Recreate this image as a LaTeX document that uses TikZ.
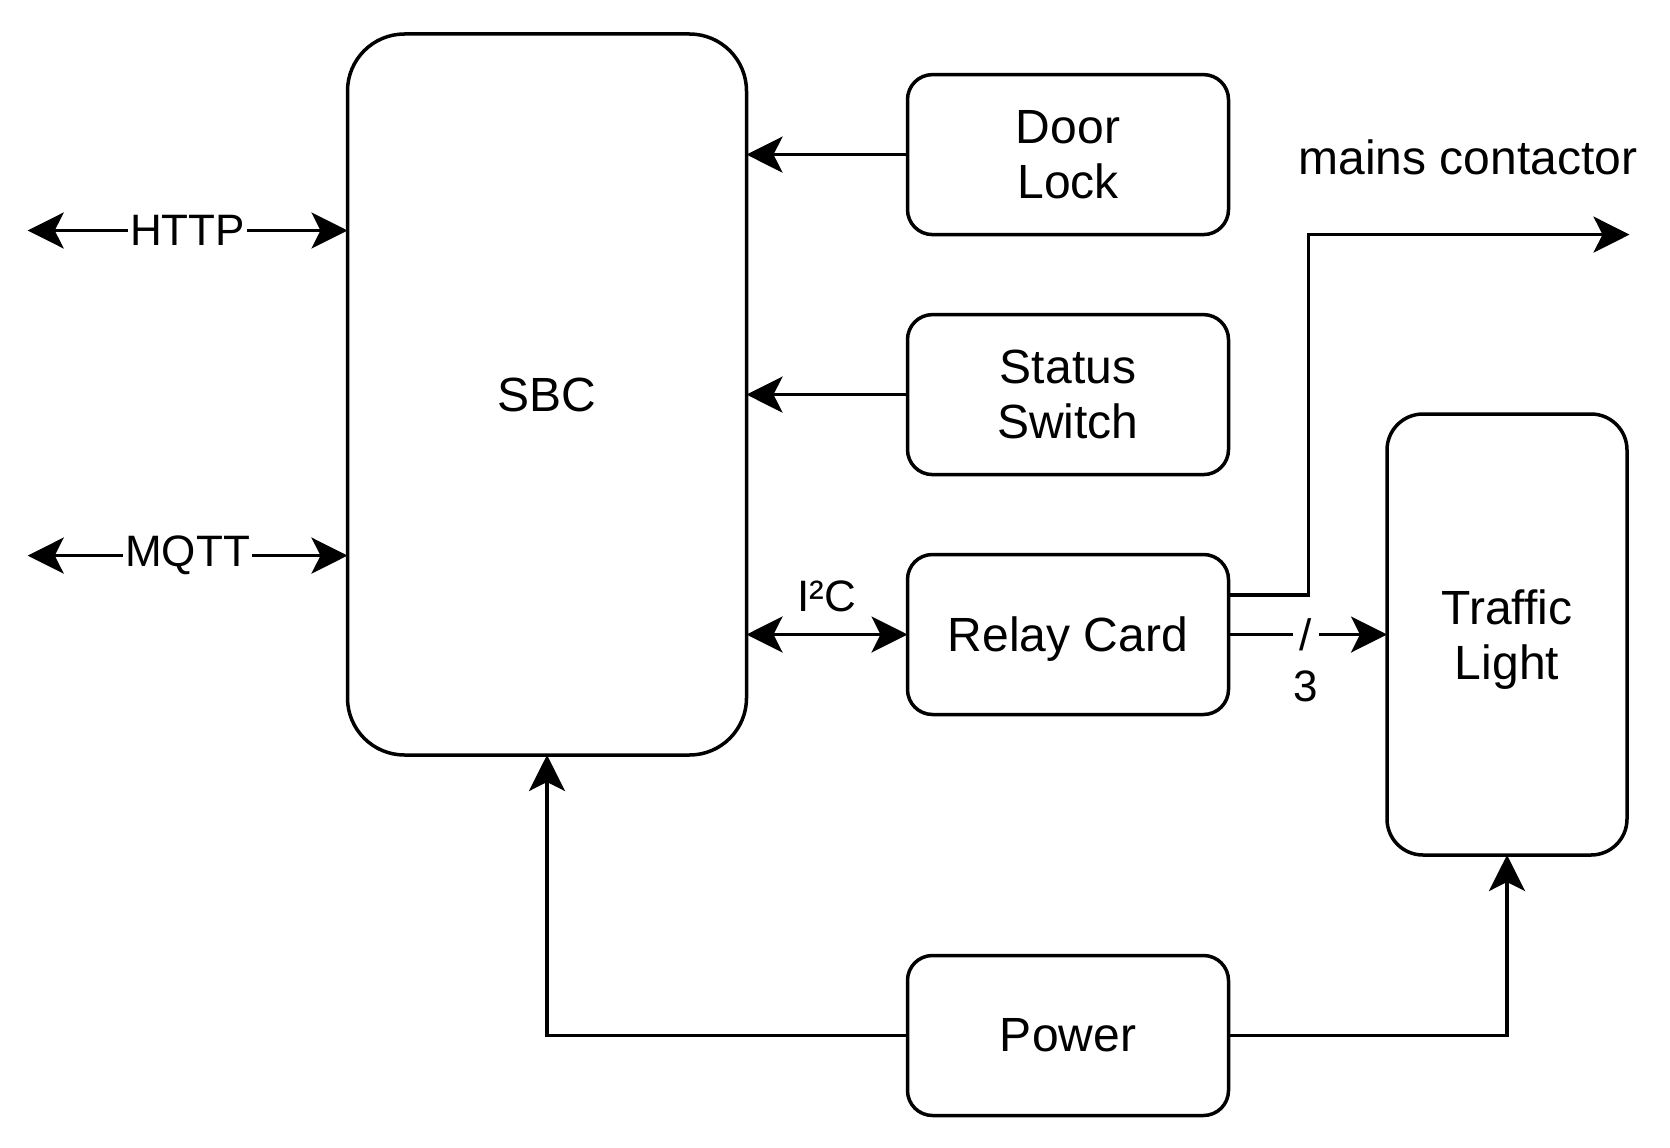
\documentclass[tikz,border=0pt]{standalone}
\usepackage{fontspec}
\setmainfont{Liberation Sans}
\usetikzlibrary{arrows.meta,calc}
\tikzset{
  blk/.style={draw, line width=3.5pt, rounded corners=25pt, inner sep=0pt, outer sep=0pt,
    align=center, font=\fontsize{48}{55}\selectfont},
  conn/.style={line width=3.5pt, -{Stealth[length=36pt,width=36pt,inset=9pt]}},
  biconn/.style={line width=3.5pt, {Stealth[length=36pt,width=36pt,inset=9pt]}-{Stealth[length=36pt,width=36pt,inset=9pt]}},
  lbl/.style={font=\fontsize{44}{50}\selectfont, inner sep=2pt},
  bigtxt/.style={font=\fontsize{48}{55}\selectfont, inner sep=0pt},
}
\begin{document}
\begin{tikzpicture}[x=1pt,y=-1pt]
\useasboundingbox[fill=white] (0,0) rectangle (1670,1148);
\node[blk, rounded corners=57pt, minimum width=399pt, minimum height=721pt] (sbc) at (547,394.5) {SBC};
\node[blk, minimum width=321pt, minimum height=160pt] (door) at (1068,154.6) {Door\\Lock};
\node[blk, minimum width=321pt, minimum height=160pt] (status) at (1068,394.6) {Status\\Switch};
\node[blk, text depth=0pt, minimum width=321pt, minimum height=160pt] (relay) at (1068,634.5) {Relay Card};
\node[blk, minimum width=321pt, minimum height=160pt] (power) at (1068,1035.5) {Power};
\node[blk, text depth=0pt, rounded corners=36pt, minimum width=240pt, minimum height=441pt] (traffic) at (1507,634.5) {Traffic\\Light};
\node[bigtxt] (mains) at (1468,157) {mains contactor};

\coordinate (httpL) at (27.7,230.5);
\coordinate (mqttL) at (27.7,555.6);
\coordinate (mainsEnd) at (1629.5,234.6);

\draw[biconn] (httpL) -- (httpL -| sbc.west) node[midway, lbl, fill=white] {HTTP};
\draw[biconn] (mqttL) -- (mqttL -| sbc.west) node[midway, lbl, fill=white] {MQTT};
\draw[conn] (door.west) -- (door.west -| sbc.east);
\draw[conn] (status.west) -- (status.west -| sbc.east);
\draw[biconn] (relay.west) -- (relay.west -| sbc.east) node[midway, lbl, yshift=38pt] {I²C};
\draw[conn] ([yshift=39.5pt]relay.east) -- ++(80,0) |- (mainsEnd);
\draw[conn] (relay.east) -- (traffic.west)
  node[midway, lbl, fill=white, inner sep=7pt, xshift=-2pt] {/}
  node[midway, lbl, yshift=-52pt, xshift=-2pt] {3};
\draw[conn] (power.west) -| (sbc.south);
\draw[conn] (power.east) -| (traffic.south);
\end{tikzpicture}
\end{document}
